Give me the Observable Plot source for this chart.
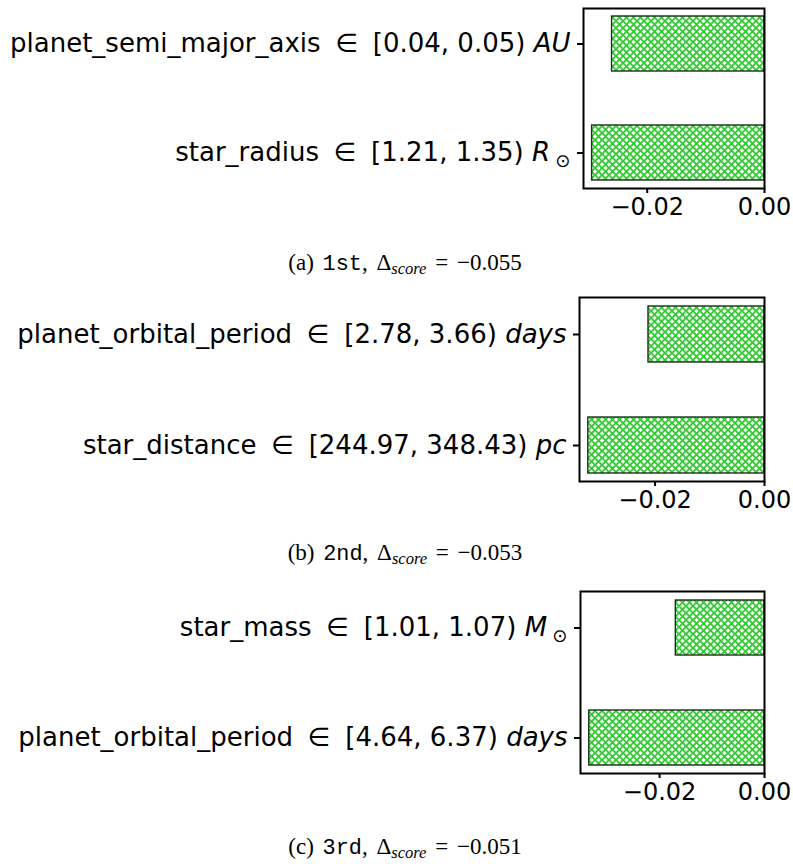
<!DOCTYPE html>
<html>
<head>
<meta charset="utf-8">
<script src="https://cdn.jsdelivr.net/npm/d3@7"></script>
<script src="https://cdn.jsdelivr.net/npm/@observablehq/plot@0.6"></script>
<style>
  html, body { margin: 0; padding: 0; background: #fff; }
  #root { position: relative; width: 793px; height: 864px; overflow: hidden; }
  .panel { position: absolute; left: 0; }
  .caption { position: absolute; white-space: nowrap; transform: translate(-50%, -50%);
    font-family: "Liberation Serif", "DejaVu Serif", serif; font-size: 23px; color: #000; word-spacing: 3px; }
  .caption .mono { font-family: "Liberation Mono", "DejaVu Sans Mono", monospace; font-size: 0.95em; word-spacing: 0; }
  .caption sub { font-style: italic; font-size: 0.72em; vertical-align: -0.25em; line-height: 0; }
</style>
</head>
<body>
<div id="root"></div>
<script>
// ---- data ----
const xTickValues = [-0.02, 0];
const xTickLabels = ["−0.02", "0.00"];

const p1Features = ["planet_semi_major_axis", "star_radius"];
const p1Ranges   = ["[0.04, 0.05)", "[1.21, 1.35)"];
const p1Units    = ["AU", "R⊙"];
const p1Values   = [-0.0260, -0.0294];

const p2Features = ["planet_orbital_period", "star_distance"];
const p2Ranges   = ["[2.78, 3.66)", "[244.97, 348.43)"];
const p2Units    = ["days", "pc"];
const p2Values   = [-0.0212, -0.0322];

const p3Features = ["star_mass", "planet_orbital_period"];
const p3Ranges   = ["[1.01, 1.07)", "[4.64, 6.37)"];
const p3Units    = ["M⊙", "days"];
const p3Values   = [-0.0169, -0.0334];

const captionLetters = ["(a)", "(b)", "(c)"];
const captionRanks   = ["1st", "2nd", "3rd"];
const captionScores  = ["−0.055", "−0.053", "−0.051"];

// ---- layout ----
const layouts = [
  {top: 0,   marginTop: 8, inner: 180, marginLeft: 583, capY: 263},
  {top: 290, marginTop: 7, inner: 184, marginLeft: 579, capY: 553},
  {top: 585, marginTop: 6, inner: 182, marginLeft: 580, capY: 847}
];
const panels = [
  {features: p1Features, ranges: p1Ranges, units: p1Units, values: p1Values},
  {features: p2Features, ranges: p2Ranges, units: p2Units, values: p2Values},
  {features: p3Features, ranges: p3Ranges, units: p3Units, values: p3Values}
];

const root = document.getElementById("root");
const W = 793, marginRight = 29, marginBottom = 52;
const NS = "http://www.w3.org/2000/svg";

panels.forEach((p, k) => {
  const L = layouts[k];
  const data = p.features.map((f, i) => ({feature: f, value: p.values[i]}));
  const xmin = d3.min(p.values) * 1.05;
  const hid = `hatch${k}`;
  const chart = Plot.plot({
    width: W,
    height: L.marginTop + L.inner + marginBottom,
    marginTop: L.marginTop,
    marginBottom,
    marginLeft: L.marginLeft,
    marginRight,
    style: {fontFamily: "DejaVu Sans", background: "white", color: "black", overflow: "visible"},
    x: {domain: [xmin, 0]},
    y: {domain: p.features, paddingInner: 0.5, paddingOuter: 0.072},
    marks: [
      Plot.barX(data, {x: "value", y: "feature", fill: `url(#${hid})`, stroke: "#1a301a", strokeWidth: 1.4}),
      Plot.frame({stroke: "black", strokeWidth: 2}),
      Plot.axisX({ticks: xTickValues, tickFormat: d => xTickLabels[xTickValues.indexOf(d)],
        tickSize: 5, tickPadding: 4, fontSize: 24, strokeWidth: 2, label: null}),
      Plot.axisY({tickSize: 6, tickPadding: 7, fontSize: 26, strokeWidth: 2, label: null})
    ]
  });
  // hatch pattern
  const defs = document.createElementNS(NS, "defs");
  defs.innerHTML = `<pattern id="${hid}" patternUnits="userSpaceOnUse" width="7" height="7">
      <rect width="7" height="7" fill="white"/>
      <path d="M0,0L7,7M7,0L0,7" stroke="#33cc33" stroke-width="1.9" fill="none"/>
    </pattern>`;
  chart.insertBefore(defs, chart.firstChild);
  // rich y tick labels
  chart.querySelectorAll('g[aria-label="y-axis tick label"] text').forEach(t => {
    const i = p.features.indexOf(t.textContent);
    if (i < 0) return;
    t.textContent = "";
    const a = document.createElementNS(NS, "tspan");
    a.textContent = `${p.features[i]} \u2005∈\u2005 ${p.ranges[i]} `;
    t.appendChild(a);
    const u = p.units[i];
    if (u.endsWith("⊙")) {
      const b = document.createElementNS(NS, "tspan");
      b.setAttribute("font-style", "italic");
      b.textContent = u.slice(0, -1) + "\u2009";
      t.appendChild(b);
      const c = document.createElementNS(NS, "tspan");
      c.setAttribute("font-size", "0.7em");
      c.setAttribute("dy", "0.3em");
      c.textContent = "⊙";
      t.appendChild(c);
    } else {
      const b = document.createElementNS(NS, "tspan");
      b.setAttribute("font-style", "italic");
      b.textContent = u;
      t.appendChild(b);
    }
  });
  chart.classList.add("panel");
  chart.style.top = L.top + "px";
  root.appendChild(chart);

  const cap = document.createElement("div");
  cap.className = "caption";
  cap.style.left = "405px";
  cap.style.top = L.capY + "px";
  cap.innerHTML = `${captionLetters[k]} <span class="mono">${captionRanks[k]}</span>, Δ<sub>score</sub> = ${captionScores[k]}`;
  root.appendChild(cap);
});
</script>
</body>
</html>
